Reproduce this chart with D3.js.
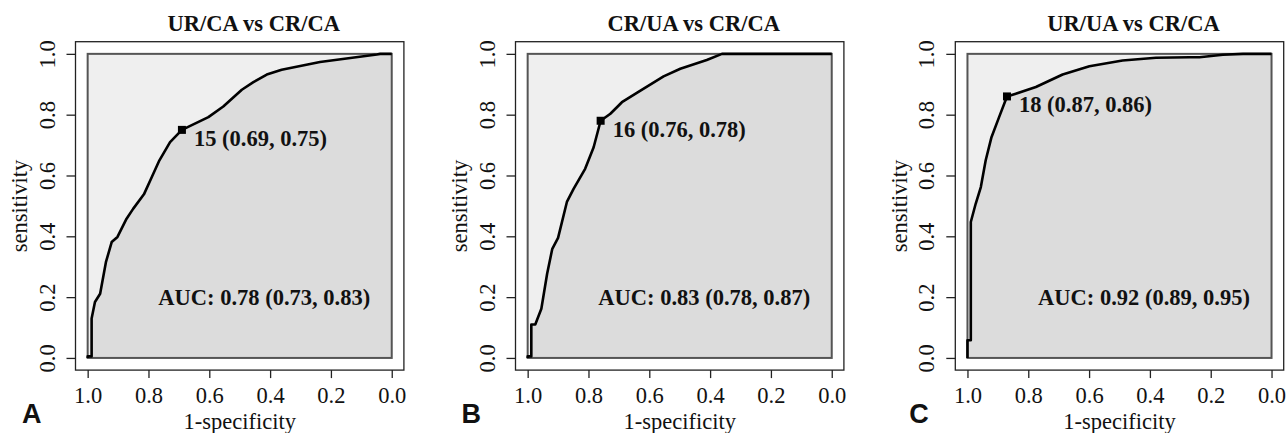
<!DOCTYPE html>
<html lang="en">
<head>
  <meta charset="UTF-8">
  <title>ROC curves</title>
  <script src="https://d3js.org/d3.v7.min.js"></script>
  <style>
    body { margin: 0; background: #fff; }
    svg { display: block; }
    text { font-family: "Liberation Serif", "Times New Roman", serif; fill: #111; }
    .panel-letter { font-family: "Liberation Sans", Arial, sans-serif; font-weight: bold; }
  </style>
</head>
<body>
  <svg width="1286" height="433"></svg>
  <script>
    // specificity (x axis runs 1 -> 0) and sensitivity
    const specA = [1, 1, 0.987, 0.987, 0.976, 0.959, 0.940, 0.921, 0.902, 0.872, 0.850, 0.815, 0.789, 0.764, 0.729, 0.69, 0.603, 0.554, 0.493, 0.455, 0.411, 0.362, 0.236, 0.049, 0.038, 0];
    const sensA = [0, 0.005, 0.005, 0.13, 0.184, 0.211, 0.315, 0.381, 0.398, 0.458, 0.491, 0.538, 0.595, 0.65, 0.71, 0.75, 0.792, 0.827, 0.882, 0.907, 0.932, 0.948, 0.973, 0.998, 1, 1];

    const specB = [1, 1, 0.988, 0.988, 0.975, 0.955, 0.936, 0.919, 0.900, 0.871, 0.849, 0.811, 0.783, 0.76, 0.728, 0.690, 0.641, 0.553, 0.498, 0.411, 0.361, 0];
    const sensB = [0, 0.005, 0.005, 0.11, 0.11, 0.162, 0.277, 0.359, 0.395, 0.513, 0.556, 0.622, 0.693, 0.78, 0.803, 0.841, 0.872, 0.926, 0.951, 0.980, 1, 1];

    const specC = [1, 1, 0.989, 0.989, 0.973, 0.956, 0.940, 0.921, 0.896, 0.87, 0.841, 0.775, 0.687, 0.599, 0.490, 0.380, 0.270, 0.237, 0.160, 0.094, 0];
    const sensC = [0, 0.058, 0.058, 0.447, 0.507, 0.562, 0.65, 0.726, 0.792, 0.86, 0.869, 0.891, 0.932, 0.959, 0.978, 0.987, 0.989, 0.989, 0.997, 1, 1];

    const titles = ["UR/CA vs CR/CA", "CR/UA vs CR/CA", "UR/UA vs CR/CA"];
    const letters = ["A", "B", "C"];
    const thresholds = [15, 16, 18];
    const thresSpec = [0.69, 0.76, 0.87];
    const thresSens = [0.75, 0.78, 0.86];
    const aucLabels = ["AUC: 0.78 (0.73, 0.83)", "AUC: 0.83 (0.78, 0.87)", "AUC: 0.92 (0.89, 0.95)"];
    const ticks = [1.0, 0.8, 0.6, 0.4, 0.2, 0.0];

    const specs = [specA, specB, specC];
    const senss = [sensA, sensB, sensC];

    const svg = d3.select("svg");
    const panelLeft = [75.5, 515.5, 955.3];
    const letterOffset = [-53.5, -54, -46];
    const plotTop = 41.7, size = 328.4;
    const fs = 22.5;
    const fmt = d3.format(".1f");

    panelLeft.forEach((left, i) => {
      const x = d3.scaleLinear().domain([1.04, -0.04]).range([left, left + size]);
      const y = d3.scaleLinear().domain([-0.04, 1.04]).range([plotTop + size, plotTop]);
      const g = svg.append("g");
      const pts = specs[i].map((s, k) => [s, senss[i][k]]);

      // full square (max AUC) in light gray
      g.append("rect")
        .attr("x", x(1)).attr("y", y(1))
        .attr("width", x(0) - x(1)).attr("height", y(0) - y(1))
        .attr("fill", "#efefef");

      // area under the curve
      g.append("path")
        .datum(pts)
        .attr("fill", "#dcdcdc")
        .attr("d", d3.area().x(d => x(d[0])).y0(y(0)).y1(d => y(d[1])));

      g.append("rect")
        .attr("x", x(1)).attr("y", y(1))
        .attr("width", x(0) - x(1)).attr("height", y(0) - y(1))
        .attr("fill", "none").attr("stroke", "#555").attr("stroke-width", 2);

      g.append("path")
        .datum(pts)
        .attr("fill", "none")
        .attr("stroke", "#000")
        .attr("stroke-width", 2.6)
        .attr("stroke-linejoin", "round")
        .attr("d", d3.line().x(d => x(d[0])).y(d => y(d[1])));

      // outer plot box
      g.append("rect")
        .attr("x", left).attr("y", plotTop)
        .attr("width", size).attr("height", size)
        .attr("fill", "none").attr("stroke", "#222").attr("stroke-width", 1.3);

      // axes
      const xAxis = g.append("g")
        .attr("transform", `translate(0,${plotTop + size})`)
        .call(d3.axisBottom(x).tickValues(ticks).tickFormat(fmt).tickSize(8).tickPadding(6));
      xAxis.select(".domain").remove();
      xAxis.selectAll("line").attr("stroke", "#222").attr("stroke-width", 1.3);
      xAxis.selectAll("text")
        .attr("font-family", "Liberation Serif, serif")
        .attr("font-size", fs).attr("fill", "#111")
        .attr("dy", "0.83em");

      const yAxis = g.append("g")
        .attr("transform", `translate(${left},0)`)
        .call(d3.axisLeft(y).tickValues(ticks).tickFormat(fmt).tickSize(9).tickPadding(0));
      yAxis.select(".domain").remove();
      yAxis.selectAll("line").attr("stroke", "#222").attr("stroke-width", 1.3);
      yAxis.selectAll("text")
        .attr("font-family", "Liberation Serif, serif")
        .attr("font-size", fs).attr("fill", "#111")
        .attr("text-anchor", "middle")
        .attr("x", null)
        .attr("transform", "translate(-21,0) rotate(-90)")
        .attr("dy", null);

      // labels
      g.append("text")
        .attr("x", left + size / 2 + 14).attr("y", 31)
        .attr("text-anchor", "middle")
        .attr("font-size", fs).attr("font-weight", "bold")
        .text(titles[i]);

      g.append("text")
        .attr("x", left + size / 2).attr("y", 428.5)
        .attr("text-anchor", "middle")
        .attr("font-size", fs)
        .text("1-specificity");

      g.append("text")
        .attr("transform", `translate(${left - 48.5},${plotTop + size / 2}) rotate(-90)`)
        .attr("text-anchor", "middle")
        .attr("font-size", fs)
        .text("sensitivity");

      g.append("text")
        .attr("class", "panel-letter")
        .attr("x", left + letterOffset[i]).attr("y", 423)
        .attr("font-size", 27)
        .text(letters[i]);

      // best threshold
      const tx = x(thresSpec[i]), ty = y(thresSens[i]);
      g.append("rect")
        .attr("x", tx - 4).attr("y", ty - 4)
        .attr("width", 8).attr("height", 8)
        .attr("fill", "#000");
      g.append("text")
        .attr("x", tx + 12).attr("y", ty + 16)
        .attr("font-size", fs).attr("font-weight", "bold")
        .text(`${thresholds[i]} (${thresSpec[i].toFixed(2)}, ${thresSens[i].toFixed(2)})`);

      g.append("text")
        .attr("x", x(0.071)).attr("y", y(0.2))
        .attr("dy", "0.33em")
        .attr("text-anchor", "end")
        .attr("font-size", fs).attr("font-weight", "bold")
        .text(aucLabels[i]);
    });
  </script>
</body>
</html>
